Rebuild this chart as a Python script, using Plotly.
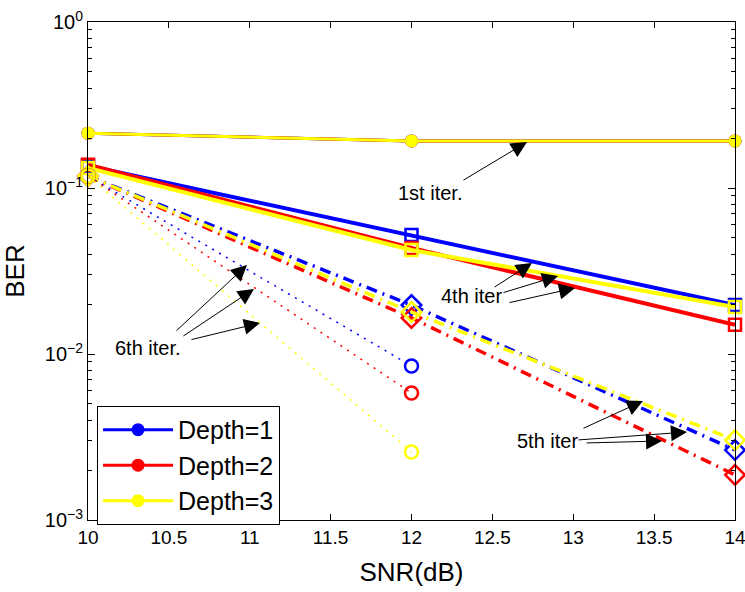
import plotly.graph_objects as go
import numpy as np

snr = [10, 12, 14]
snr6 = [10, 12]
depth_names = ["Depth=1", "Depth=2", "Depth=3"]
colors = ["#0000FF", "#FF0000", "#FFFF00"]

ber_it1 = [[0.214, 0.192, 0.192], [0.214, 0.192, 0.192], [0.214, 0.192, 0.192]]
ber_it4 = [[0.136, 0.0521, 0.0197], [0.138, 0.0435, 0.0150], [0.132, 0.0423, 0.0192]]
ber_it5 = [[0.118, 0.0197, 0.00264], [0.118, 0.0165, 0.00187], [0.118, 0.0179, 0.00303]]
ber_it6 = [[0.118, 0.00847], [0.118, 0.00582], [0.118, 0.00257]]

x_ticks = [10, 10.5, 11, 11.5, 12, 12.5, 13, 13.5, 14]
x_ticklabels = ["10", "10.5", "11", "11.5", "12", "12.5", "13", "13.5", "14"]
y_ticks = [1e-3, 1e-2, 1e-1, 1]
y_ticklabels = ["10<sup>−3</sup>", "10<sup>−2</sup>", "10<sup>−1</sup>", "10<sup>0</sup>"]
y_minor = [m * 10.0 ** e for e in (-3, -2, -1) for m in range(2, 10)]

# annotation texts: (label, x, BER) and arrows: (tip x, tip BER, tail dx px, tail dy px)
ann_texts = [("1st iter.", 12.114, 10 ** -1.030), ("4th iter", 12.374, 10 ** -1.651),
             ("5th iter", 12.838, 10 ** -2.524), ("6th iter.", 10.371, 10 ** -1.964)]
ann_arrows = [(12.714, 10 ** -0.723, -65, 39),
              (12.745, 10 ** -1.452, -39, 25), (12.906, 10 ** -1.530, -56, 17), (13.011, 10 ** -1.602, -67, 15),
              (13.431, 10 ** -2.283, -61, 28), (13.703, 10 ** -2.470, -110, 8), (13.549, 10 ** -2.524, -77, 2),
              (10.983, 10 ** -1.464, -72, 67), (11.026, 10 ** -1.608, -72, 48), (11.063, 10 ** -1.813, -70, 17)]

FONT = "Liberation Sans, Arial, sans-serif"

fig = go.Figure()
for d in range(3):
    c = colors[d]
    fig.add_trace(go.Scatter(x=snr, y=ber_it1[d], mode="lines+markers", name=depth_names[d],
                             line=dict(color=c, width=3), cliponaxis=False,
                             marker=dict(symbol="circle", size=13, color=c, line=dict(width=0))))
for d in range(3):
    c = colors[d]
    fig.add_trace(go.Scatter(x=snr, y=ber_it4[d], mode="lines+markers", showlegend=False,
                             line=dict(color=c, width=4), cliponaxis=False,
                             marker=dict(symbol="square-open", size=12, color=c, line=dict(width=2.5, color=c))))
for d in range(3):
    c = colors[d]
    fig.add_trace(go.Scatter(x=snr, y=ber_it5[d], mode="lines+markers", showlegend=False,
                             line=dict(color=c, width=3.5, dash="11px,6px,2px,6px"), cliponaxis=False,
                             marker=dict(symbol="diamond-open", size=15, color=c, line=dict(width=2.5, color=c))))
for d in range(3):
    c = colors[d]
    fig.add_trace(go.Scatter(x=snr6, y=ber_it6[d], mode="lines+markers", showlegend=False,
                             line=dict(color=c, width=1.5, dash="2px,6px"), cliponaxis=False,
                             marker=dict(symbol="circle-open", size=13, color=c, line=dict(width=2.5, color=c))))

annotations = []
for (t, x, y) in ann_texts:
    annotations.append(dict(x=x, y=np.log10(y), xref="x", yref="y", text=t, showarrow=False,
                            font=dict(family=FONT, size=20, color="black")))
for (x, y, dx, dy) in ann_arrows:
    annotations.append(dict(x=x, y=np.log10(y), xref="x", yref="y", text="", showarrow=True,
                            ax=dx, ay=dy, arrowhead=2, arrowsize=3.2, arrowwidth=1,
                            arrowcolor="black", standoff=0))

axis_font = dict(family=FONT, size=19, color="black")
fig.update_layout(
    width=745, height=592,
    margin=dict(l=88, r=10, t=22, b=72),
    paper_bgcolor="white", plot_bgcolor="white",
    font=dict(family=FONT, color="black"),
    xaxis=dict(range=[10, 14], tickvals=x_ticks, ticktext=x_ticklabels, ticks="inside", ticklen=6,
               tickcolor="black", showline=True, linecolor="black", linewidth=1, mirror="ticks",
               showgrid=False, zeroline=False, tickfont=axis_font, automargin=False,
               ticklabeloverflow="allow",
               title=dict(text="SNR(dB)", font=dict(family=FONT, size=26), standoff=16)),
    yaxis=dict(type="log", range=[-3, 0], tickvals=y_ticks, ticktext=y_ticklabels, ticks="inside",
               ticklen=7, tickcolor="black", showline=True, linecolor="black", linewidth=1, mirror="ticks",
               showgrid=False, zeroline=False, tickfont=dict(family=FONT, size=20, color="black"),
               automargin=False, ticklabeloverflow="allow",
               minor=dict(tickvals=y_minor, ticks="inside", ticklen=4, tickcolor="black", showgrid=False),
               title=dict(text="BER", font=dict(family=FONT, size=26), standoff=14)),
    legend=dict(x=0.014, y=0.229, xanchor="left", yanchor="top", bordercolor="black", borderwidth=1,
                bgcolor="white", font=dict(family=FONT, size=25, color="black"),
                tracegroupgap=0, itemwidth=70),
    showlegend=True,
    annotations=annotations,
)

fig.write_html("out.html")
